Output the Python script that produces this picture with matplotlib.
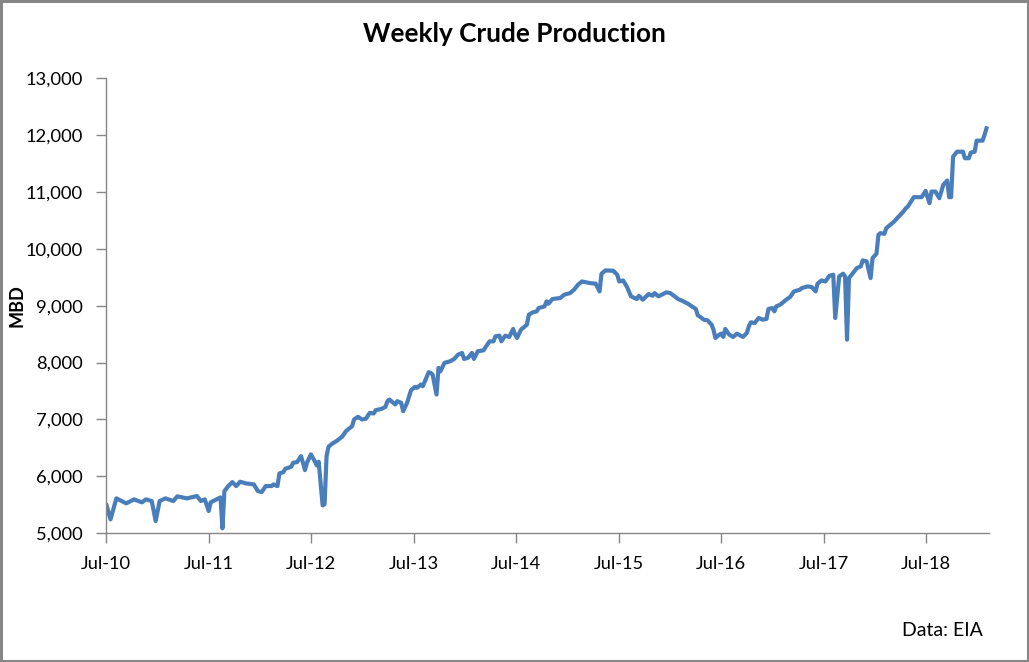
import matplotlib
matplotlib.use("Agg")
import matplotlib.pyplot as plt
from matplotlib.patches import Rectangle
from matplotlib.ticker import FuncFormatter, MultipleLocator
import pandas as pd

plt.rcParams['font.family'] = ['Lato', 'DejaVu Sans']

# Week number since first report (2010-07-02), and crude production (thousand b/d)
week_no = [0, 2, 5, 10, 14, 18, 20, 23, 25, 27, 30, 34, 36, 41, 46, 48, 50, 52, 53, 57,
           58, 59, 60, 62, 64, 66, 68, 71, 75, 77, 79, 81, 84, 85, 87, 88, 90, 91, 94, 95,
           97, 99, 100, 101, 102, 104, 106, 107, 108, 110, 111, 112, 113, 115, 117, 120, 122, 125, 126, 128,
           130, 132, 134, 136, 137, 140, 142, 143, 144, 147, 148, 150, 151, 153, 155, 157, 158, 160, 161, 164,
           165, 166, 168, 169, 170, 172, 175, 177, 179, 181, 182, 184, 186, 187, 189, 192, 193, 195, 197, 198,
           200, 201, 203, 205, 207, 208, 209, 211, 213, 214, 215, 217, 219, 220, 223, 224, 225, 227, 231, 233,
           236, 238, 240, 242, 246, 249, 251, 252, 254, 258, 260, 261, 263, 265, 267, 270, 271, 273, 276, 278,
           279, 281, 285, 287, 291, 293, 296, 298, 300, 301, 303, 304, 306, 308, 309, 310, 312, 313, 314, 315,
           317, 319, 321, 324, 326, 327, 328, 330, 332, 334, 336, 337, 339, 340, 341, 343, 346, 348, 350, 353,
           354, 357, 359, 361, 362, 364, 366, 368, 370, 371, 373, 375, 376, 377, 378, 380, 382, 384, 385, 387,
           389, 390, 392, 393, 394, 396, 397, 399, 401, 403, 405, 407, 408, 411, 415, 417, 419, 420, 422, 424,
           426, 428, 429, 430, 431, 433, 436, 437, 439, 440, 442, 443, 446, 447, 448]
production = [5490, 5245, 5614, 5526, 5596, 5544, 5596, 5567, 5216, 5567, 5614, 5567, 5649, 5614, 5655, 5567, 5596, 5391, 5544, 5614,
              5631, 5088, 5742, 5830, 5900, 5830, 5906, 5877, 5859, 5742, 5724, 5830, 5830, 5859, 5830, 6052, 6075, 6134, 6169, 6239,
              6251, 6356, 6239, 6110, 6239, 6386, 6268, 6193, 6257, 5491, 5509, 6356, 6520, 6579, 6619, 6700, 6800, 6882, 7000, 7047,
              7000, 7012, 7117, 7105, 7163, 7187, 7222, 7321, 7350, 7263, 7321, 7292, 7146, 7292, 7514, 7573, 7556, 7614, 7584, 7830,
              7819, 7789, 7438, 7906, 7847, 7994, 8023, 8064, 8140, 8169, 8064, 8082, 8169, 8064, 8198, 8216, 8274, 8373, 8373, 8461,
              8473, 8373, 8473, 8450, 8590, 8491, 8432, 8578, 8636, 8666, 8841, 8882, 8900, 8958, 8987, 9075, 9034, 9116, 9134, 9192,
              9221, 9280, 9367, 9425, 9397, 9386, 9250, 9561, 9619, 9613, 9543, 9425, 9443, 9327, 9163, 9116, 9174, 9104, 9204, 9174,
              9221, 9163, 9233, 9221, 9116, 9087, 9034, 8987, 8941, 8830, 8784, 8754, 8742, 8666, 8578, 8432, 8491, 8508, 8450, 8590,
              8491, 8450, 8508, 8450, 8520, 8636, 8707, 8695, 8783, 8754, 8766, 8941, 8958, 8900, 8988, 9017, 9104, 9151, 9250, 9280,
              9309, 9338, 9327, 9250, 9385, 9443, 9425, 9525, 9543, 8783, 9513, 9561, 9513, 8403, 9484, 9572, 9660, 9690, 9795, 9777,
              9484, 9836, 9912, 10245, 10274, 10262, 10362, 10420, 10478, 10555, 10625, 10713, 10742, 10906, 10906, 11016, 10800, 11004, 11004, 10888,
              11122, 11198, 10906, 10906, 11618, 11705, 11705, 11590, 11590, 11688, 11705, 11899, 11899, 11998, 12115]

first_week = '2010-07-02'
tick_dates = ['2010-07-01', '2011-07-01', '2012-07-01', '2013-07-01', '2014-07-01',
              '2015-07-01', '2016-07-01', '2017-07-01', '2018-07-01']
tick_labels = ['Jul-10', 'Jul-11', 'Jul-12', 'Jul-13', 'Jul-14', 'Jul-15', 'Jul-16', 'Jul-17', 'Jul-18']

weeks = pd.date_range(first_week, periods=max(week_no) + 1, freq='7D')
dates = weeks[week_no]

fig = plt.figure(figsize=(10.29, 6.62), dpi=100)
fig.patch.set_facecolor('white')
fig.add_artist(Rectangle((0.0012, 0.0018), 0.9976, 0.9964, transform=fig.transFigure,
                         fill=False, edgecolor='#868686', linewidth=2.2))

ax = fig.add_axes([0.1033, 0.1944, 0.8581, 0.6878])
ax.plot(dates, production, color='#4A7EBB', linewidth=3.0, solid_joinstyle='round')

ax.set_ylim(5000, 13000)
ax.set_xlim(pd.Timestamp('2010-07-01'), pd.Timestamp('2019-02-11'))
ax.yaxis.set_major_locator(MultipleLocator(1000))
ax.yaxis.set_major_formatter(FuncFormatter(lambda v, p: f'{int(v):,}'))
ax.set_xticks(pd.to_datetime(tick_dates))
ax.set_xticklabels(tick_labels)

for s in ['top', 'right']:
    ax.spines[s].set_visible(False)
for s in ['left', 'bottom']:
    ax.spines[s].set_color('#868686')
    ax.spines[s].set_linewidth(1.0)
ax.tick_params(axis='both', direction='out', length=7, width=1.0, color='#868686',
               labelsize=13.2, labelcolor='black')
ax.tick_params(axis='y', pad=10)
ax.tick_params(axis='x', pad=9)

fig.text(0.5, 0.948, 'Weekly Crude Production', ha='center', va='center',
         fontsize=18.8, fontweight='bold')
fig.text(0.0165, 0.539, 'MBD', rotation=90, ha='center', va='center',
         fontsize=13, fontweight='bold')
fig.text(0.9555, 0.048, 'Data: EIA', ha='right', va='center', fontsize=14)

fig.savefig('out.png', dpi=100, facecolor='white')
